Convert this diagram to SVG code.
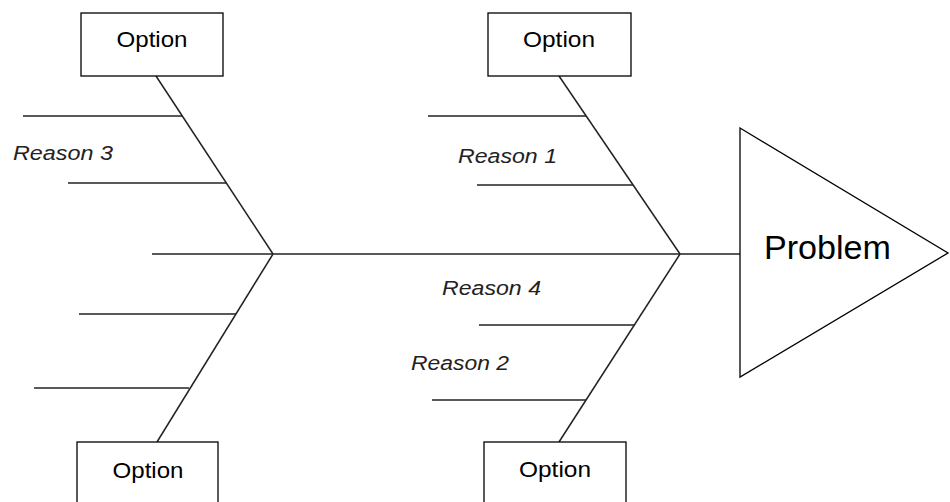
<svg xmlns="http://www.w3.org/2000/svg" width="950" height="502" viewBox="0 0 950 502">
<style>
.box{fill:#fff;stroke:#000;stroke-width:1.3}
.bone{stroke:#222;stroke-width:1.5;fill:none}
.opt{font-family:"Liberation Sans",Arial,sans-serif;font-size:22px;fill:#000;text-anchor:middle}
.rsn{font-family:"Liberation Sans",Arial,sans-serif;font-size:20px;font-style:italic;fill:#222}
.prob{font-family:"Liberation Sans",Arial,sans-serif;font-size:34px;fill:#000}
</style>
<rect width="950" height="502" fill="#fff"/>
<g id="connectors">
<line class="bone" x1="152" y1="254" x2="740" y2="254"/>
<line class="bone" x1="156" y1="76" x2="273" y2="254"/>
<line class="bone" x1="273" y1="254" x2="157" y2="442"/>
<line class="bone" x1="559" y1="76" x2="680" y2="254"/>
<line class="bone" x1="680" y1="254" x2="559" y2="442"/>
<line class="bone" x1="23" y1="116" x2="182" y2="116"/>
<line class="bone" x1="68" y1="183" x2="226" y2="183"/>
<line class="bone" x1="79" y1="314" x2="236" y2="314"/>
<line class="bone" x1="34" y1="388" x2="189" y2="388"/>
<line class="bone" x1="428" y1="116" x2="586" y2="116"/>
<line class="bone" x1="477" y1="185" x2="633" y2="185"/>
<line class="bone" x1="479" y1="325" x2="635" y2="325"/>
<line class="bone" x1="432" y1="400" x2="586" y2="400"/>
</g>
<g id="labels">
<text class="rsn" x="13" y="160" textLength="100" lengthAdjust="spacingAndGlyphs">Reason 3</text>
<text class="rsn" x="458" y="163" textLength="99" lengthAdjust="spacingAndGlyphs">Reason 1</text>
<text class="rsn" x="442" y="295" textLength="99" lengthAdjust="spacingAndGlyphs">Reason 4</text>
<text class="rsn" x="411" y="370" textLength="98" lengthAdjust="spacingAndGlyphs">Reason 2</text>
</g>
<g id="option-top-left">
<rect class="box" x="81" y="13" width="142" height="63"/>
<text class="opt" x="152" y="47" textLength="71" lengthAdjust="spacingAndGlyphs">Option</text>
</g>
<g id="option-top-right">
<rect class="box" x="488" y="13" width="143" height="63"/>
<text class="opt" x="559" y="47" textLength="72" lengthAdjust="spacingAndGlyphs">Option</text>
</g>
<g id="option-bottom-left">
<rect class="box" x="77" y="442" width="141" height="65"/>
<text class="opt" x="148" y="478" textLength="71" lengthAdjust="spacingAndGlyphs">Option</text>
</g>
<g id="option-bottom-right">
<rect class="box" x="484" y="442" width="142" height="65"/>
<text class="opt" x="555" y="477" textLength="72" lengthAdjust="spacingAndGlyphs">Option</text>
</g>
<g id="problem">
<polygon class="box" points="740,128 948,253 740,377"/>
<text class="prob" x="764" y="259" textLength="127" lengthAdjust="spacingAndGlyphs">Problem</text>
</g>
</svg>
